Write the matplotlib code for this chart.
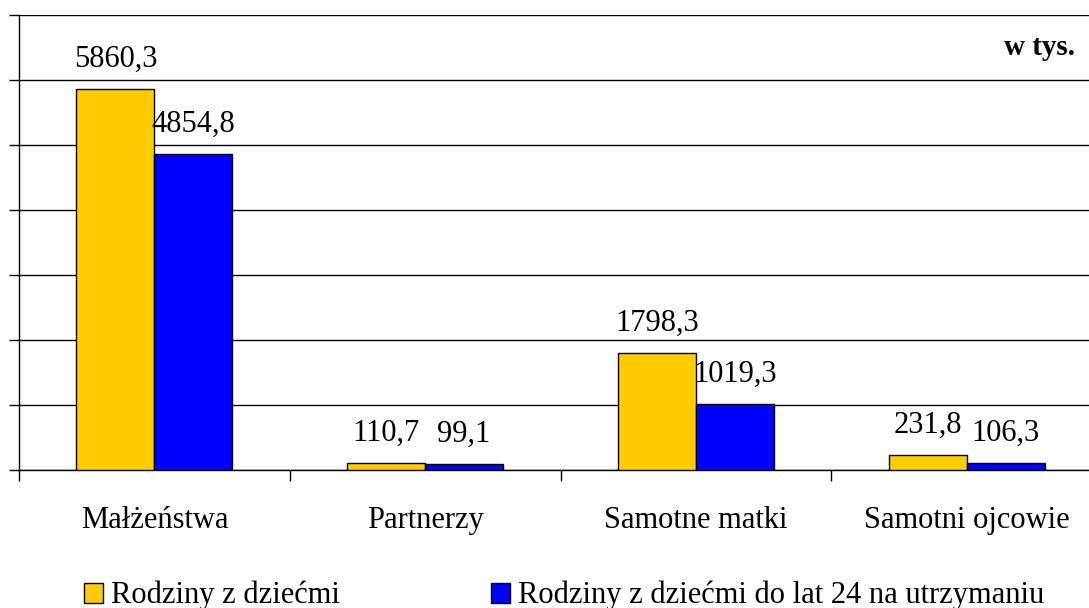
import matplotlib.pyplot as plt
import numpy as np

categories = ["Małżeństwa", "Partnerzy", "Samotne matki", "Samotni ojcowie"]
with_children = [5860.3, 110.7, 1798.3, 231.8]
children_under_24 = [4854.8, 99.1, 1019.3, 106.3]
series_names = ["Rodziny z dziećmi", "Rodziny z dziećmi do lat 24 na utrzymaniu"]

plt.rcParams['font.family'] = ['Liberation Serif', 'DejaVu Serif']

W, H = 1089, 608
fig = plt.figure(figsize=(W / 100, H / 100), dpi=100)
ax = fig.add_axes([19 / W, 1 - 470 / H, (1102 - 19) / W, (470 - 15) / H])

x = np.arange(len(categories))
bw = 0.288
b1 = ax.bar(x - bw / 2, with_children, bw, color='#FFCC00', edgecolor='black', linewidth=1, zorder=3)
b2 = ax.bar(x + bw / 2, children_under_24, bw, color='#0000FF', edgecolor='black', linewidth=1, zorder=3)

def fmt(v):
    return f"{v:.1f}".replace('.', ',')

for bars, vals in [(b1, with_children), (b2, children_under_24)]:
    for r, v in zip(bars, vals):
        ax.annotate(fmt(v), (r.get_x() + r.get_width() / 2, v), xytext=(0, 16),
                    textcoords='offset points', ha='center', va='baseline', fontsize=22)

ax.set_xlim(-0.5, len(categories) - 0.5)
ax.set_ylim(0, 7000)
ax.set_yticks(np.arange(0, 7001, 1000))
ax.set_yticklabels([])
ax.tick_params(axis='y', length=7, width=1, direction='out')
ax.grid(axis='y', color='black', linewidth=1, zorder=0)

ax.set_xticks(x)
ax.set_xticklabels(categories, fontsize=22)
ax.tick_params(axis='x', which='major', length=0, pad=26)
ax.set_xticks(np.arange(len(categories)) - 0.5, minor=True)
ax.tick_params(axis='x', which='minor', length=8, width=1, direction='out')

for s in ['top', 'right']:
    ax.spines[s].set_visible(False)
ax.spines['left'].set_linewidth(1)
ax.spines['bottom'].set_linewidth(1)

fig.text(1075 / W, 1 - 55 / H, "w tys.", ha='right', va='baseline', fontsize=21, fontweight='bold')

for bars, name, xpos in [(b1, series_names[0], 84), (b2, series_names[1], 491)]:
    fig.legend([bars], [name], loc='lower left', bbox_to_anchor=(xpos / W, -0.004),
               frameon=False, fontsize=22, handlelength=0.62, handleheight=0.62,
               handletextpad=0.25, borderpad=0, borderaxespad=0)

fig.savefig('out.png', dpi=100)
